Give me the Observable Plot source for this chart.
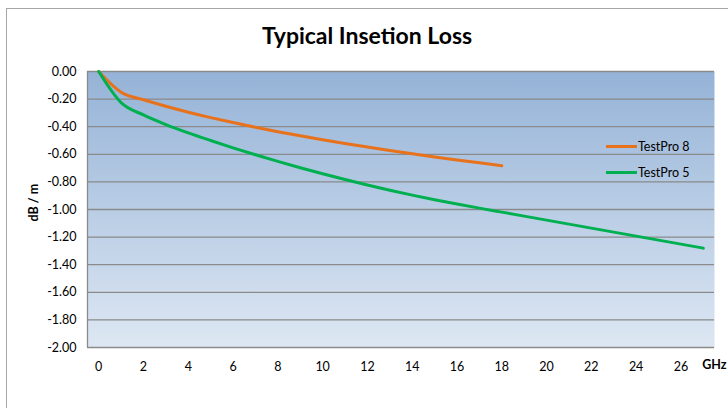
<!DOCTYPE html>
<html>
<head>
<meta charset="utf-8">
<script src="https://cdn.jsdelivr.net/npm/d3@7"></script>
<script src="https://cdn.jsdelivr.net/npm/@observablehq/plot@0.6"></script>
<style>
  html, body { margin: 0; padding: 0; background: #fff; }
  #wrap { position: relative; width: 728px; height: 408px; overflow: hidden; font-family: Lato, "Open Sans", sans-serif; }
  #border { position: absolute; left: 6px; top: 8px; width: 740px; height: 420px; border: 1.5px solid #a6a6a6; box-sizing: border-box; }
  #title { position: absolute; left: 0; width: 734px; top: 21px; text-align: center; font-size: 23px; font-weight: bold; color: #000; }
  #chart { position: absolute; left: 0; top: 0; }
  .leg { position: absolute; font-size: 12.5px; color: #000; display: flex; align-items: center; }
  .leg span.sw { display: inline-block; width: 31px; height: 3px; margin-right: 1px; }
</style>
</head>
<body>
<div id="wrap">
  <div id="border"></div>
  <div id="chart"></div>
  <div id="title">Typical Insetion Loss</div>
  <div id="legend"></div>
</div>
<script>
// ---- data ----
const seriesNames = ["TestPro 8", "TestPro 5"];
const seriesColors = ["#e8711c", "#00b050"];
const freq8 = [0, 1, 2, 3, 4, 5, 6, 7, 8, 9, 10, 11, 12, 13, 14, 15, 16, 17, 18];
const loss8 = [0, -0.15, -0.205, -0.252, -0.295, -0.334, -0.37, -0.404, -0.436, -0.466, -0.494, -0.521, -0.547, -0.572, -0.596, -0.619, -0.641, -0.662, -0.683];
const freq5 = [0, 1, 2, 3, 4, 5, 6, 7, 8, 9, 10, 11, 12, 13, 14, 15, 16, 17, 18, 19, 20, 21, 22, 23, 24, 25, 26, 27];
const loss5 = [0, -0.225, -0.315, -0.385, -0.445, -0.50, -0.553, -0.603, -0.651, -0.697, -0.741, -0.783, -0.823, -0.861, -0.896, -0.929, -0.960, -0.990, -1.019, -1.048, -1.077, -1.106, -1.135, -1.164, -1.193, -1.222, -1.251, -1.28];
const xTicks = [0, 2, 4, 6, 8, 10, 12, 14, 16, 18, 20, 22, 24, 26];
const yTicks = [0, -0.2, -0.4, -0.6, -0.8, -1.0, -1.2, -1.4, -1.6, -1.8, -2.0];
const yLabel = "dB / m";
const xUnit = "GHz";

const rows = [
  ...freq8.map((f, i) => ({series: seriesNames[0], f, v: loss8[i]})),
  ...freq5.map((f, i) => ({series: seriesNames[1], f, v: loss5[i]}))
];

const plot = Plot.plot({
  width: 728,
  height: 408,
  marginLeft: 87,
  marginRight: 14,
  marginTop: 71,
  marginBottom: 61,
  style: {fontFamily: "Lato, 'Open Sans', sans-serif", fontSize: "12.5px", background: "transparent", color: "#000"},
  x: {domain: [-0.5, 27.5], ticks: xTicks, tickSize: 0, tickPadding: 15, label: null, tickFormat: d => String(d)},
  y: {domain: [-2, 0], ticks: yTicks, tickSize: 0, tickPadding: 11, label: null, tickFormat: d => d.toFixed(2)},
  color: {domain: seriesNames, range: seriesColors},
  marks: [
    Plot.frame({fill: "url(#bggrad)", stroke: null}),
    Plot.ruleY(yTicks, {stroke: "#8a8a8a", strokeWidth: 1.3}),
    Plot.ruleX([-0.5], {stroke: "#8a8a8a", strokeWidth: 1.3}),
    Plot.line(rows, {x: "f", y: "v", z: "series", stroke: "series", strokeWidth: 3, curve: "monotone-x"}),
    Plot.text([xUnit], {frameAnchor: "bottom-right", text: d => d, dy: 17, dx: 12, fontWeight: "bold", textAnchor: "end", lineAnchor: "middle"}),
    Plot.text([yLabel], {frameAnchor: "left", text: d => d, dx: -54, dy: 12, rotate: -90, fontWeight: "bold", fontSize: 12.5})
  ]
});

// gradient defs
const ns = "http://www.w3.org/2000/svg";
const defs = document.createElementNS(ns, "defs");
defs.innerHTML = '<linearGradient id="bggrad" x1="0" y1="0" x2="0" y2="1"><stop offset="0" stop-color="#95b3d7"/><stop offset="1" stop-color="#dde7f3"/></linearGradient>';
plot.insertBefore(defs, plot.firstChild);
document.getElementById("chart").appendChild(plot);

// legend
const legend = document.getElementById("legend");
const legTops = [139, 165];
seriesNames.forEach((name, i) => {
  const d = document.createElement("div");
  d.className = "leg";
  d.style.left = "606px";
  d.style.top = legTops[i] + "px";
  d.innerHTML = `<span class="sw" style="background:${seriesColors[i]}"></span>${name}`;
  legend.appendChild(d);
});
</script>
</body>
</html>
